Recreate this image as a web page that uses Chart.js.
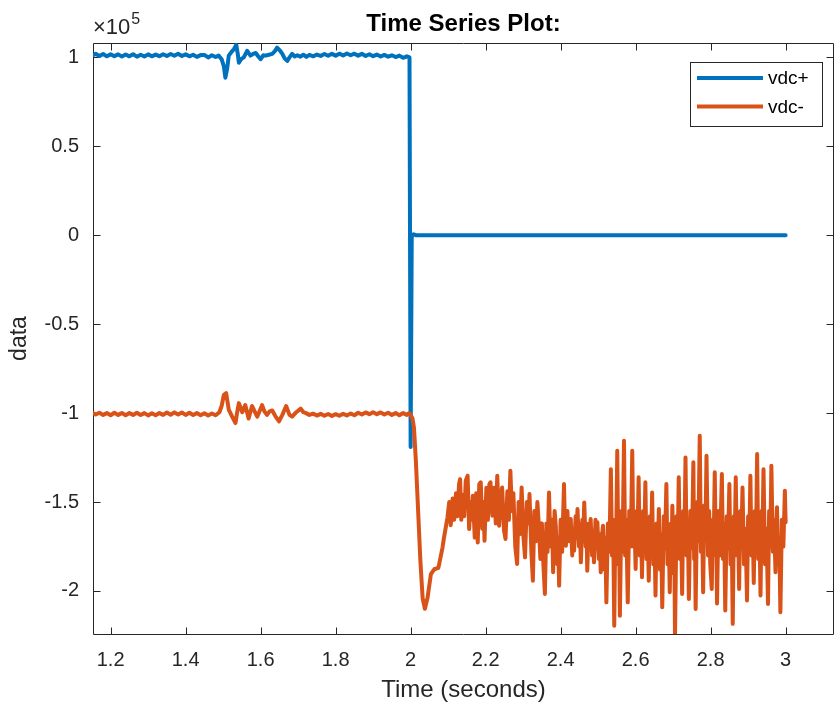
<!DOCTYPE html>
<html>
<head>
<meta charset="utf-8">
<title>Time Series Plot</title>
<script src="https://cdn.jsdelivr.net/npm/chart.js@4.4.1/dist/chart.umd.min.js"></script>
<style>
  html, body { margin: 0; padding: 0; background: #ffffff; }
  #wrap { width: 834px; height: 713px; }
</style>
</head>
<body>
<div id="wrap"><canvas id="plot" width="834" height="713"></canvas></div>
<script>
// ---- data (values in units of 1e5) ----
const seriesNames = ["vdc+", "vdc-"];

const plusTime = [
  1.153, 1.16, 1.17, 1.18, 1.19, 1.2, 1.21, 1.22, 1.23, 1.24,
  1.25, 1.26, 1.27, 1.28, 1.29, 1.3, 1.31, 1.32, 1.33, 1.34,
  1.35, 1.36, 1.37, 1.38, 1.39, 1.4, 1.41, 1.42, 1.43, 1.44,
  1.45, 1.46, 1.47, 1.48, 1.488, 1.496, 1.502, 1.506, 1.511, 1.515,
  1.522, 1.529, 1.535, 1.539, 1.542, 1.548, 1.555, 1.564, 1.573, 1.58,
  1.587, 1.594, 1.6, 1.607, 1.613, 1.622, 1.631, 1.638, 1.644, 1.651,
  1.658, 1.664, 1.671, 1.677, 1.684, 1.691, 1.698, 1.706, 1.714, 1.722,
  1.73, 1.74, 1.75, 1.76, 1.77, 1.78, 1.79, 1.8, 1.81, 1.82,
  1.83, 1.84, 1.85, 1.86, 1.87, 1.88, 1.89, 1.9, 1.91, 1.92,
  1.93, 1.94, 1.95, 1.96, 1.97, 1.98, 1.99, 1.997, 2.0, 2.003,
  2.008, 2.015, 3.0
];
const plusValues = [
  1.012, 1.02, 1.008, 1.019, 1.006, 1.018, 1.007, 1.017, 1.005, 1.016,
  1.006, 1.018, 1.004, 1.015, 1.005, 1.017, 1.006, 1.016, 1.007, 1.018,
  1.008, 1.019, 1.009, 1.02, 1.008, 1.017, 1.006, 1.015, 1.003, 1.013,
  1.014, 1.0, 1.012, 1.002, 1.01, 0.99, 0.95, 0.886, 0.94, 1.01,
  1.03, 1.047, 1.07, 1.02, 0.97, 0.99, 1.0, 1.037, 1.01, 1.02,
  1.025, 1.005, 0.99, 1.012, 1.01, 1.015, 1.02, 1.035, 1.055, 1.04,
  1.02, 0.995, 0.98, 1.0, 1.02, 1.005, 1.012, 1.004, 1.015, 1.003,
  1.014, 1.006, 1.016, 1.008, 1.019, 1.009, 1.02, 1.01, 1.021, 1.011,
  1.022, 1.012, 1.021, 1.01, 1.02, 1.008, 1.018, 1.007, 1.016, 1.005,
  1.014, 1.004, 1.012, 1.002, 1.01, 0.998, 1.006, 1.0, -1.19, 0.0,
  0.005, 0.0, 0.0
];

const minusTime = [
  1.153, 1.16, 1.17, 1.18, 1.19, 1.2, 1.21, 1.22, 1.23, 1.24,
  1.25, 1.26, 1.27, 1.28, 1.29, 1.3, 1.31, 1.32, 1.33, 1.34,
  1.35, 1.36, 1.37, 1.38, 1.39, 1.4, 1.41, 1.42, 1.43, 1.44,
  1.45, 1.46, 1.47, 1.48, 1.49, 1.496, 1.502, 1.508, 1.515, 1.524,
  1.533, 1.537, 1.542, 1.551, 1.559, 1.568, 1.577, 1.584, 1.591, 1.598,
  1.604, 1.61, 1.617, 1.624, 1.631, 1.64, 1.649, 1.658, 1.668, 1.677,
  1.684, 1.695, 1.707, 1.714, 1.721, 1.73, 1.74, 1.75, 1.76, 1.77,
  1.78, 1.79, 1.8, 1.81, 1.82, 1.83, 1.84, 1.85, 1.86, 1.87,
  1.88, 1.89, 1.9, 1.91, 1.92, 1.93, 1.94, 1.95, 1.96, 1.97,
  1.98, 1.99, 1.996, 2.0, 2.005, 2.009, 2.014, 2.02, 2.026, 2.032,
  2.038, 2.045, 2.054, 2.063, 2.074, 2.085, 2.089,
  2.098, 2.103, 2.107, 2.112, 2.116, 2.121, 2.125, 2.129, 2.132, 2.135,
  2.139, 2.143, 2.147, 2.152, 2.156, 2.160, 2.163, 2.166, 2.171, 2.175,
  2.179, 2.183, 2.187, 2.191, 2.194, 2.197, 2.202, 2.206, 2.210, 2.213,
  2.218, 2.223, 2.227, 2.231, 2.236, 2.240, 2.244, 2.249, 2.253, 2.258,
  2.262, 2.266, 2.270, 2.274, 2.279, 2.284, 2.288, 2.292, 2.296, 2.301,
  2.305, 2.310, 2.314, 2.317, 2.322, 2.326, 2.330, 2.334, 2.338, 2.342,
  2.346, 2.350, 2.354, 2.358, 2.362, 2.365, 2.369, 2.373, 2.377, 2.380,
  2.384, 2.387, 2.391, 2.393, 2.396, 2.400, 2.404, 2.409, 2.412, 2.414,
  2.418, 2.422, 2.427, 2.431, 2.433, 2.436, 2.440, 2.442, 2.445, 2.449,
  2.451, 2.454, 2.458, 2.460, 2.463, 2.467, 2.469, 2.471, 2.475, 2.477,
  2.480, 2.484, 2.486, 2.489, 2.493, 2.495, 2.498, 2.502, 2.504, 2.507,
  2.510, 2.513, 2.517, 2.519, 2.522, 2.526, 2.530, 2.534, 2.537, 2.540,
  2.543, 2.546, 2.548, 2.551, 2.554, 2.556, 2.558, 2.562, 2.565, 2.569,
  2.572, 2.575, 2.579, 2.583, 2.587, 2.591, 2.594, 2.597, 2.600, 2.603,
  2.605, 2.608, 2.611, 2.614, 2.617, 2.620, 2.623, 2.626, 2.629, 2.632,
  2.635, 2.638, 2.641, 2.644, 2.647, 2.650, 2.653, 2.656, 2.659, 2.662,
  2.665, 2.668, 2.671, 2.675, 2.678, 2.682, 2.685, 2.688, 2.691, 2.694,
  2.696, 2.698, 2.701, 2.703, 2.705, 2.709, 2.712, 2.715, 2.718, 2.721,
  2.724, 2.727, 2.730, 2.733, 2.736, 2.739, 2.742, 2.746, 2.750, 2.754,
  2.756, 2.758, 2.760, 2.764, 2.767, 2.771, 2.774, 2.777, 2.780, 2.783,
  2.786, 2.789, 2.793, 2.796, 2.799, 2.803, 2.806, 2.808, 2.811, 2.814,
  2.815, 2.817, 2.821, 2.824, 2.827, 2.830, 2.833, 2.836, 2.839, 2.843,
  2.846, 2.850, 2.853, 2.856, 2.859, 2.862, 2.864, 2.867, 2.870, 2.873,
  2.876, 2.879, 2.882, 2.885, 2.889, 2.893, 2.897, 2.900, 2.903, 2.906,
  2.909, 2.912, 2.915, 2.918, 2.921, 2.924, 2.927, 2.930, 2.933, 2.936,
  2.938, 2.941, 2.945, 2.949, 2.953, 2.956, 2.959, 2.962, 2.966, 2.969,
  2.973, 2.975, 2.977, 2.980, 2.983, 2.986, 2.990, 2.994, 2.998, 3.0
];
const minusValues = [
  -1.0, -1.008, -0.998, -1.01, -1.0, -1.012, -0.998, -1.01, -0.999, -1.012,
  -1.0, -1.01, -0.998, -1.011, -1.0, -1.013, -1.001, -1.012, -1.0, -1.01,
  -0.997, -1.009, -0.996, -1.008, -0.997, -1.01, -0.998, -1.011, -1.0, -1.012,
  -1.001, -1.013, -1.002, -1.012, -0.995, -0.96, -0.897, -0.888, -0.98, -1.02,
  -1.056, -1.0, -0.944, -0.995, -0.955, -1.03, -0.96, -0.99, -1.02, -0.985,
  -0.955, -0.99, -1.01, -0.99, -0.985, -1.02, -1.046, -1.01, -0.96, -1.01,
  -1.02, -0.995, -0.975, -0.995, -1.0, -1.01, -1.003, -1.014, -1.004, -1.015,
  -1.005, -1.016, -1.006, -1.015, -1.004, -1.013, -1.002, -1.012, -0.998, -1.008,
  -0.996, -1.006, -0.995, -1.006, -0.996, -1.008, -0.998, -1.01, -1.0, -1.012,
  -1.0, -1.01, -1.0, -1.01, -1.03, -1.084, -1.27, -1.55, -1.83, -2.04,
  -2.10, -2.04, -1.906, -1.878, -1.87, -1.756, -1.70,
  -1.59, -1.50, -1.63, -1.48, -1.60, -1.45, -1.58, -1.40, -1.371, -1.60,
  -1.46, -1.58, -1.38, -1.352, -1.652, -1.50, -1.60, -1.465, -1.70, -1.45,
  -1.727, -1.40, -1.389, -1.65, -1.50, -1.717, -1.42, -1.60, -1.40, -1.389,
  -1.577, -1.42, -1.62, -1.352, -1.633, -1.47, -1.418, -1.66, -1.708, -1.44,
  -1.60, -1.324, -1.55, -1.45, -1.75, -1.848, -1.50, -1.68, -1.418, -1.70,
  -1.811, -1.50, -1.62, -1.455, -1.78, -1.942, -1.55, -1.72, -1.50, -1.633,
  -1.82, -1.62, -1.85, -2.017, -1.62, -1.78, -1.446, -1.75, -1.60, -1.895,
  -1.55, -1.633, -1.85, -1.70, -1.97, -1.60, -1.78, -1.399, -1.70, -1.746,
  -1.55, -1.72, -1.596, -1.80, -1.65, -1.773, -1.58, -1.70, -1.539, -1.75,
  -1.62, -1.839, -1.60, -1.72, -1.502, -1.75, -1.64, -1.886, -1.62, -1.74,
  -1.596, -1.80, -1.66, -1.839, -1.60, -1.72, -1.614, -1.82, -1.68, -1.895,
  -1.70, -1.633, -1.88, -1.70, -2.064, -1.62, -1.78, -1.315, -1.80, -1.60,
  -2.195, -1.60, -1.75, -1.212, -1.85, -1.65, -2.139, -1.55, -1.78, -1.156,
  -1.80, -1.60, -2.064, -1.55, -1.75, -1.212, -1.75, -1.62, -1.876, -1.55,
  -1.70, -1.361, -1.80, -1.60, -1.923, -1.55, -1.72, -1.389, -1.82, -1.62,
  -1.942, -1.58, -1.75, -1.446, -1.85, -1.65, -2.026, -1.62, -1.78, -1.539,
  -1.88, -1.68, -2.092, -1.58, -1.76, -1.399, -1.85, -1.65, -2.007, -1.62,
  -1.75, -1.521, -1.90, -1.70, -2.26, -1.58, -1.78, -1.361, -1.82, -1.62,
  -2.017, -1.55, -1.75, -1.249, -1.80, -1.60, -2.045, -1.55, -1.76, -1.277,
  -1.82, -1.65, -2.101, -1.50, -1.72, -1.127, -1.78, -1.58, -2.007, -1.52,
  -1.70, -1.24, -1.80, -1.55, -1.85, -1.989, -1.60, -1.75, -1.333, -1.80,
  -1.65, -2.071, -1.55, -1.80, -1.60, -1.343, -1.82, -1.62, -2.11, -1.58,
  -1.76, -1.399, -1.85, -1.65, -2.185, -1.58, -1.75, -1.361, -1.80, -1.62,
  -1.989, -1.55, -1.72, -1.418, -1.85, -1.65, -2.054, -1.58, -1.75, -1.352,
  -1.80, -1.60, -1.955, -1.55, -1.72, -1.23, -1.82, -1.62, -2.026, -1.55,
  -1.72, -1.315, -1.85, -1.65, -2.073, -1.55, -1.75, -1.296, -1.78, -1.60,
  -1.895, -1.65, -1.53, -1.85, -1.70, -2.12, -1.60, -1.75, -1.436, -1.614
];

const xTicks = [1.2, 1.4, 1.6, 1.8, 2, 2.2, 2.4, 2.6, 2.8, 3];
const yTicks = [-2, -1.5, -1, -0.5, 0, 0.5, 1];

// ---- look ----
const FONT = "'Liberation Sans', Arial, Helvetica, sans-serif";
const AXIS_COLOR = "#262626";
const BLUE = "#0072BD";
const ORANGE = "#D95319";

function toPoints(times, values) {
  return times.map((t, i) => ({ x: t, y: values[i] }));
}

// draws the MATLAB style box, inward ticks, exponent label and legend
const matlabAxes = {
  id: "matlabAxes",
  beforeDatasetsDraw(chart) {
    const { ctx, chartArea: a, scales } = chart;
    const L = a.left + 0.5, R = a.right - 0.5, T = a.top + 0.5, B = a.bottom + 0.5;
    const len = 7;

    ctx.save();
    ctx.strokeStyle = AXIS_COLOR;
    ctx.lineWidth = 1;
    ctx.beginPath();
    ctx.moveTo(L, T); ctx.lineTo(R, T); ctx.lineTo(R, B); ctx.lineTo(L, B); ctx.closePath();

    xTicks.forEach((v) => {
      const px = Math.round(scales.x.getPixelForValue(v)) + 0.5;
      ctx.moveTo(px, B); ctx.lineTo(px, B - len);
      ctx.moveTo(px, T); ctx.lineTo(px, T + len);
    });
    yTicks.forEach((v) => {
      const py = Math.round(scales.y.getPixelForValue(v)) + 0.5;
      ctx.moveTo(L, py); ctx.lineTo(L + len, py);
      ctx.moveTo(R, py); ctx.lineTo(R - len, py);
    });
    ctx.stroke();
    ctx.restore();
  },
  afterDraw(chart) {
    const { ctx, chartArea: a } = chart;
    ctx.save();

    // x 10^5 exponent label
    ctx.fillStyle = AXIS_COLOR;
    ctx.textBaseline = "alphabetic";
    ctx.textAlign = "left";
    ctx.font = "22px " + FONT;
    ctx.fillText("\u00d710", a.left, a.top - 9);
    const w = ctx.measureText("\u00d710").width;
    ctx.font = "16px " + FONT;
    ctx.fillText("5", a.left + w + 1, a.top - 19);

    // legend box
    const bx = a.right - 144, by = a.top + 19, bw = 132, bh = 64;
    ctx.fillStyle = "#ffffff";
    ctx.fillRect(bx, by, bw, bh);
    ctx.strokeStyle = AXIS_COLOR;
    ctx.lineWidth = 1;
    ctx.strokeRect(bx + 0.5, by + 0.5, bw, bh);

    ctx.font = "19px " + FONT;
    ctx.textBaseline = "middle";
    chart.data.datasets.forEach((ds, i) => {
      const ly = by + 16 + i * 28.5;
      ctx.strokeStyle = ds.borderColor;
      ctx.lineWidth = 4;
      ctx.beginPath();
      ctx.moveTo(bx + 7, ly);
      ctx.lineTo(bx + 73, ly);
      ctx.stroke();
      ctx.fillStyle = "#000000";
      ctx.fillText(ds.label, bx + 78, ly + 1);
    });
    ctx.restore();
  }
};

const plot = new Chart(document.getElementById("plot"), {
  type: "line",
  data: {
    datasets: [
      {
        label: seriesNames[0],
        data: toPoints(plusTime, plusValues),
        borderColor: BLUE,
        order: 1
      },
      {
        label: seriesNames[1],
        data: toPoints(minusTime, minusValues),
        borderColor: ORANGE,
        order: 0
      }
    ]
  },
  options: {
    responsive: false,
    animation: false,
    devicePixelRatio: 1,
    layout: { padding: 0, autoPadding: false },
    elements: {
      point: { radius: 0, hoverRadius: 0 },
      line: {
        borderWidth: 4,
        tension: 0,
        fill: false,
        borderJoinStyle: "round",
        borderCapStyle: "round"
      }
    },
    datasets: { line: { clip: 0 } },
    plugins: {
      legend: { display: false },
      tooltip: { enabled: false },
      title: {
        display: true,
        fullSize: false,
        text: "Time Series Plot:",
        color: "#000000",
        font: { family: FONT, size: 24, weight: "bold" },
        padding: { top: 9.6, bottom: 4.6 }
      }
    },
    scales: {
      x: {
        type: "linear",
        min: 1.153,
        max: 3.129,
        grid: { display: false, drawTicks: false },
        border: { display: false },
        afterBuildTicks: (scale) => {
          scale.ticks = xTicks.map((v) => ({ value: v }));
        },
        afterFit: (scale) => {
          scale.height = 79;
        },
        ticks: {
          color: AXIS_COLOR,
          padding: 14,
          maxRotation: 0,
          autoSkip: false,
          font: { family: FONT, size: 20 },
          callback: (v) => String(Math.round(v * 10) / 10)
        },
        title: {
          display: true,
          text: "Time (seconds)",
          color: AXIS_COLOR,
          font: { family: FONT, size: 24 },
          padding: { top: 0, bottom: 8.6 }
        }
      },
      y: {
        type: "linear",
        min: -2.242,
        max: 1.081,
        grid: { display: false, drawTicks: false },
        border: { display: false },
        afterBuildTicks: (scale) => {
          scale.ticks = yTicks.map((v) => ({ value: v }));
        },
        afterFit: (scale) => {
          scale.width = 93;
        },
        ticks: {
          color: AXIS_COLOR,
          padding: 14,
          autoSkip: false,
          font: { family: FONT, size: 20 },
          callback: (v) => String(v)
        },
        title: {
          display: true,
          text: "data",
          color: AXIS_COLOR,
          font: { family: FONT, size: 23 },
          padding: { top: 6.2, bottom: 0 }
        }
      }
    }
  },
  plugins: [matlabAxes]
});
</script>
</body>
</html>
